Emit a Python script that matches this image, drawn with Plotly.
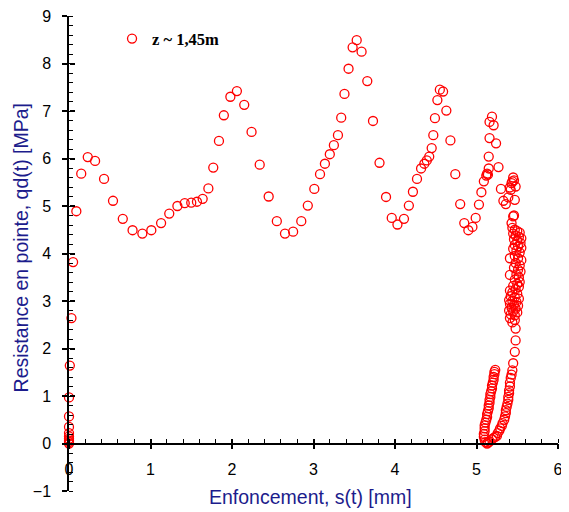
import plotly.graph_objects as go

# ---- data (s in mm, qd in MPa) ----
s_rise = [0.00, 0.00, 0.00, 0.00, 0.00, 0.00, 0.00, 0.00, 0.00, 0.01, 0.03, 0.05, 0.09, 0.15,
          0.23, 0.32, 0.43, 0.54, 0.66, 0.78, 0.90, 1.01, 1.13, 1.23, 1.33, 1.42, 1.50, 1.57,
          1.64, 1.71]
qd_rise = [0.00, 0.03, 0.06, 0.10, 0.15, 0.22, 0.35, 0.57, 0.97, 1.64, 2.64, 3.82, 4.89, 5.68,
           6.03, 5.95, 5.57, 5.11, 4.73, 4.49, 4.42, 4.49, 4.64, 4.84, 5.00, 5.06, 5.07, 5.09,
           5.15, 5.37]

s_waves = [1.77, 1.84, 1.90, 1.98, 2.06, 2.15, 2.24, 2.34, 2.45, 2.55, 2.65, 2.75, 2.85, 2.93,
           3.01, 3.08, 3.14, 3.20, 3.25, 3.30, 3.34, 3.38, 3.43, 3.48, 3.53, 3.59, 3.66, 3.73,
           3.81, 3.89, 3.96, 4.03, 4.11, 4.17, 4.22, 4.27, 4.32, 4.36, 4.39, 4.42, 4.45, 4.47,
           4.49, 4.52, 4.55, 4.59, 4.63, 4.68, 4.74, 4.80, 4.85, 4.90, 4.95, 4.99]
qd_waves = [5.81, 6.37, 6.91, 7.30, 7.42, 7.13, 6.56, 5.87, 5.20, 4.68, 4.42, 4.46, 4.68, 5.01,
            5.36, 5.67, 5.89, 6.09, 6.28, 6.49, 6.86, 7.36, 7.89, 8.34, 8.49, 8.25, 7.63, 6.79,
            5.91, 5.19, 4.75, 4.61, 4.73, 5.01, 5.30, 5.57, 5.79, 5.89, 5.96, 6.04, 6.22, 6.49,
            6.85, 7.23, 7.45, 7.41, 7.01, 6.38, 5.67, 5.04, 4.64, 4.49, 4.56, 4.75]

s_last = [5.03, 5.06, 5.09, 5.12, 5.13, 5.14, 5.15, 5.15, 5.16, 5.16, 5.19, 5.21, 5.24, 5.27,
          5.30, 5.33, 5.36, 5.39, 5.42, 5.41, 5.43, 5.44, 5.45, 5.48, 5.46, 5.47, 5.46]
qd_last = [5.03, 5.29, 5.52, 5.64, 5.68, 5.66, 5.79, 6.04, 6.43, 6.77, 6.88, 6.70, 6.32, 5.82,
           5.36, 5.11, 5.04, 5.18, 5.34, 5.39, 5.48, 5.52, 5.60, 5.41, 5.54, 5.13, 4.80]

s_column = [5.45, 5.43, 5.44, 5.47, 5.50, 5.53, 5.45, 5.48, 5.52, 5.55, 5.46, 5.50, 5.54, 5.47,
            5.51, 5.55, 5.45, 5.49, 5.53, 5.41, 5.47, 5.51, 5.55, 5.48, 5.53, 5.46, 5.51, 5.54,
            5.41, 5.49, 5.52, 5.47, 5.53, 5.50, 5.45, 5.52, 5.41, 5.48, 5.44, 5.50, 5.42, 5.47,
            5.52, 5.40, 5.44, 5.49, 5.41, 5.46, 5.51, 5.43, 5.48, 5.40, 5.45, 5.50, 5.42, 5.47,
            5.41, 5.47, 5.44, 5.48]
qd_column = [4.78, 4.64, 4.54, 4.50, 4.47, 4.44, 4.42, 4.38, 4.35, 4.32, 4.30, 4.27, 4.22, 4.18,
             4.15, 4.12, 4.10, 4.06, 4.02, 3.90, 3.95, 3.90, 3.86, 3.80, 3.75, 3.70, 3.66, 3.62,
             3.55, 3.56, 3.50, 3.45, 3.40, 3.36, 3.32, 3.30, 3.22, 3.25, 3.18, 3.15, 3.10, 3.08,
             3.05, 3.02, 3.00, 2.98, 2.94, 2.92, 2.90, 2.86, 2.84, 2.80, 2.78, 2.76, 2.72, 2.70,
             2.64, 2.60, 2.55, 2.42]

s_unload = [5.48, 5.47, 5.45, 5.44, 5.43, 5.42, 5.41, 5.41, 5.40, 5.40, 5.39, 5.39, 5.38, 5.37,
            5.36, 5.36, 5.35, 5.34, 5.32, 5.31, 5.29, 5.28, 5.26, 5.25, 5.23, 5.21, 5.19, 5.16,
            5.14, 5.13]
qd_unload = [2.17, 1.93, 1.69, 1.54, 1.45, 1.38, 1.28, 1.20, 1.12, 1.06, 0.98, 0.92, 0.84, 0.77,
             0.70, 0.64, 0.57, 0.50, 0.43, 0.37, 0.32, 0.27, 0.22, 0.16, 0.14, 0.12, 0.09, 0.04,
             0.02, 0.00]

s_reload = [5.11, 5.10, 5.09, 5.09, 5.10, 5.10, 5.10, 5.11, 5.12, 5.13, 5.13, 5.14, 5.15, 5.15,
            5.16, 5.16, 5.17, 5.17, 5.18, 5.19, 5.19, 5.20, 5.21, 5.21, 5.22, 5.22, 5.23]
qd_reload = [0.03, 0.08, 0.14, 0.20, 0.26, 0.32, 0.38, 0.44, 0.50, 0.56, 0.62, 0.68, 0.74, 0.80,
             0.86, 0.92, 0.98, 1.04, 1.10, 1.16, 1.22, 1.28, 1.34, 1.40, 1.46, 1.51, 1.55]

series_name = "z ~ 1,45m"
x_title = "Enfoncement, s(t) [mm]"
y_title = "Resistance en pointe, qd(t) [MPa]"

s_all = s_rise + s_waves + s_last + s_column + s_unload + s_reload
qd_all = qd_rise + qd_waves + qd_last + qd_column + qd_unload + qd_reload

NAVY = "#1c1c8c"

fig = go.Figure()
fig.add_trace(go.Scatter(
    x=s_all, y=qd_all, mode="markers", name="<b>" + series_name + "</b>",
    marker=dict(symbol="circle-open", size=9, color="red",
                line=dict(width=1.3, color="red")),
    cliponaxis=False,
))
# helper trace so that the overlay axes (inner half of crossing ticks) are drawn
fig.add_trace(go.Scatter(x=[], y=[], xaxis="x2", yaxis="y2", showlegend=False,
                         hoverinfo="skip"))

common_font = dict(family="Arial, Liberation Sans, sans-serif", size=16, color="black")

# the page body adds an 8 px offset, so the figure is 8 px smaller and margins compensate
fig.update_layout(
    template="none",
    width=561, height=504,
    margin=dict(l=61, r=11, t=8, b=21, autoexpand=False),
    paper_bgcolor="white", plot_bgcolor="white",
    showlegend=True,
    legend=dict(x=0.088, y=0.952, xanchor="left", yanchor="middle",
                font=dict(family="Liberation Serif, Times New Roman, serif", size=16.5,
                          color="black"),
                bgcolor="rgba(0,0,0,0)", borderwidth=0),
    xaxis=dict(range=[0, 6], anchor="free", position=0.1, automargin=False,
               showline=True, linecolor="black", linewidth=1.5,
               ticks="outside", ticklen=5, tickwidth=1.5, tickcolor="black",
               tick0=0, dtick=1, showgrid=False, zeroline=False,
               tickfont=common_font, ticklabelstandoff=7, ticklabeloverflow="allow",
               minor=dict(dtick=0.2, tick0=0, ticks="inside", ticklen=4, tickwidth=1.2,
                          tickcolor="black", showgrid=False)),
    yaxis=dict(range=[-1, 9], anchor="x", side="left", automargin=False,
               showline=True, linecolor="black", linewidth=1.5,
               ticks="outside", ticklen=5, tickwidth=1.5, tickcolor="black",
               tick0=0, dtick=1, showgrid=False, zeroline=False,
               tickfont=common_font, ticklabelstandoff=8, ticklabeloverflow="allow",
               minor=dict(dtick=0.2, tick0=0, ticks="inside", ticklen=4, tickwidth=1.2,
                          tickcolor="black", showgrid=False)),
    xaxis2=dict(range=[0, 6], overlaying="x", anchor="free", position=0.1, automargin=False,
                showline=False, ticks="inside", ticklen=5, tickwidth=1.5,
                tickcolor="black", tick0=0, dtick=1, showticklabels=False,
                showgrid=False, zeroline=False),
    yaxis2=dict(range=[-1, 9], overlaying="y", anchor="free", position=0, side="left",
                automargin=False,
                showline=False, ticks="inside", ticklen=5, tickwidth=1.5,
                tickcolor="black", tick0=0, dtick=1, showticklabels=False,
                showgrid=False, zeroline=False),
    annotations=[
        dict(text=x_title, xref="paper", yref="paper", x=0.493, y=-0.012,
             xanchor="center", yanchor="middle", showarrow=False,
             font=dict(family="Arial, Liberation Sans, sans-serif", size=19.5, color=NAVY)),
        dict(text=y_title, xref="paper", yref="paper", x=-0.099, y=0.512,
             xanchor="center", yanchor="middle", showarrow=False, textangle=-90,
             font=dict(family="Arial, Liberation Sans, sans-serif", size=19.5, color=NAVY)),
    ],
)

fig.write_html("out.html")
